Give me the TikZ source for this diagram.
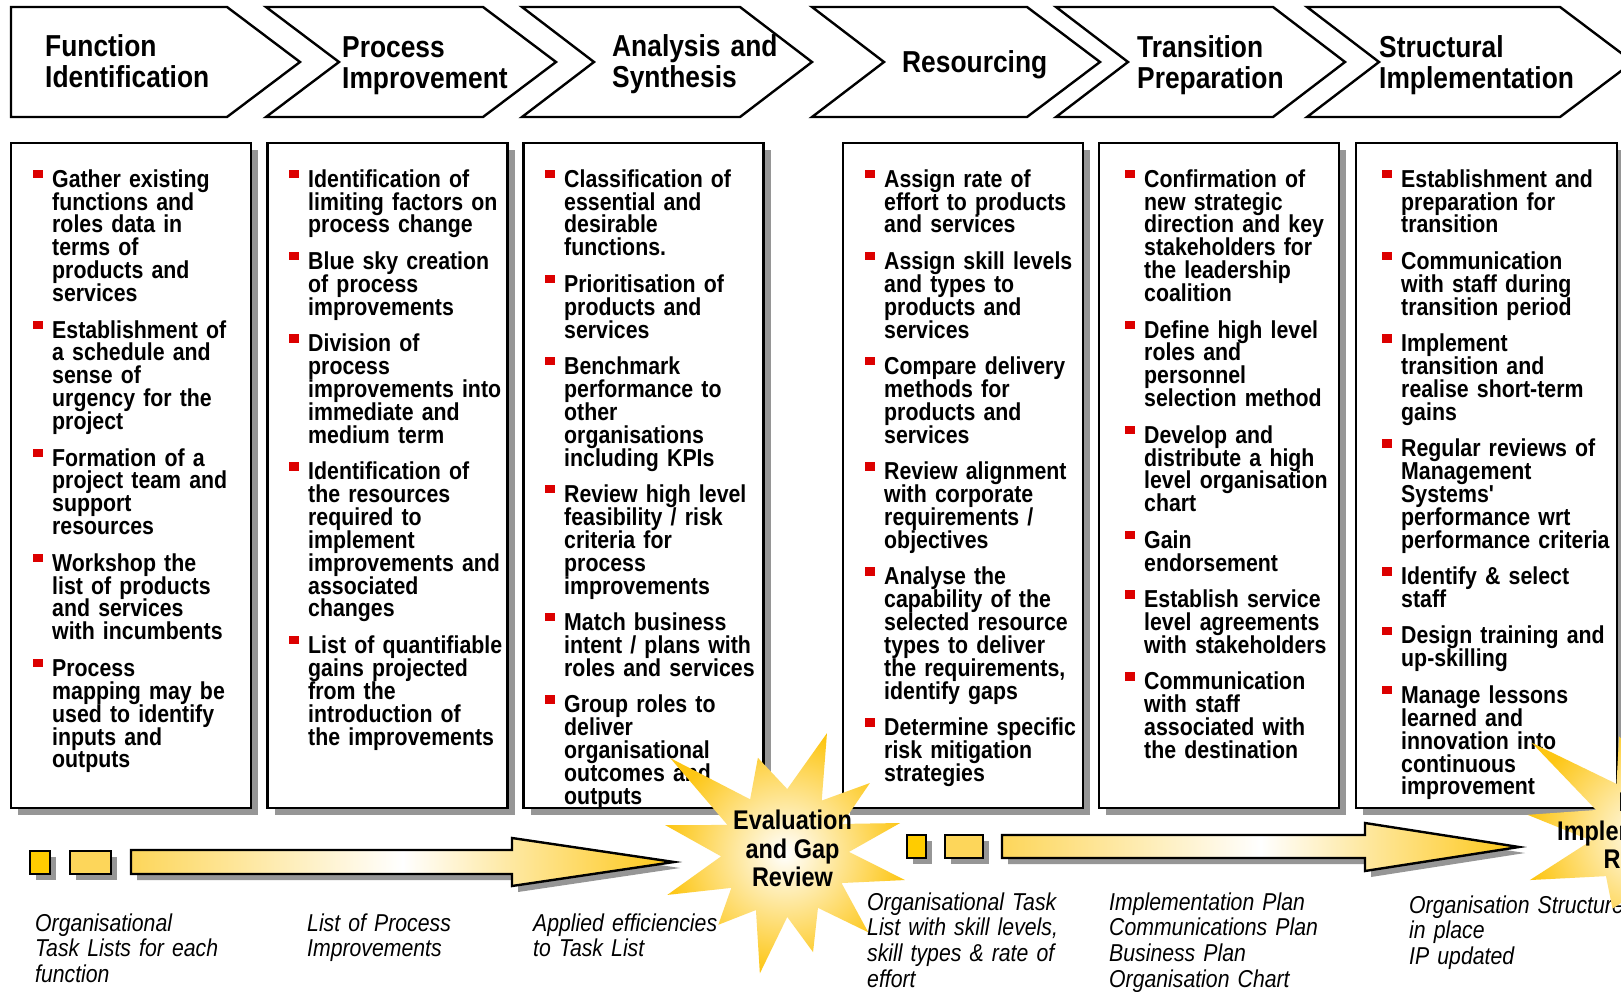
\documentclass[tikz,border=0pt]{standalone}
\usepackage{fontspec}
\setmainfont{Liberation Sans}[FakeStretch=0.87]
\usetikzlibrary{shadows}

\definecolor{bulred}{RGB}{220,0,0}
\definecolor{gold}{RGB}{255,204,0}
\definecolor{paleGold}{RGB}{253,214,90}
\definecolor{starGold}{RGB}{253,198,20}
\definecolor{shadowGray}{RGB}{150,150,150}

% fonts, with fixed line pitch
\newcommand{\bodyfont}{\fontsize{24.5}{22.9}\selectfont\bfseries\lineskiplimit-60pt\parskip13.5pt\relax}
\newcommand{\headfont}{\fontsize{30.3}{31}\selectfont\bfseries\lineskiplimit-60pt\relax}
\newcommand{\outfont}{\fontsize{24.4}{25.6}\selectfont\itshape\lineskiplimit-60pt\relax}
\newcommand{\burstfont}{\fontsize{27}{28.4}\selectfont\bfseries\lineskiplimit-60pt\relax}
% red square bullet hanging left of the item text
\newcommand{\bul}{\noindent\llap{\textcolor{bulred}{\rule[9pt]{9.5pt}{8.5pt}}\hspace{9.5pt}}\rule{0pt}{19pt}}

\tikzset{
  chev/.style={draw=black, line width=2.4pt, fill=white, line join=miter},
  colbox/.style={draw=black, line width=2.6pt, fill=white, minimum width=240pt, minimum height=665pt,
    drop shadow={shadow xshift=7pt, shadow yshift=-7pt, fill=shadowGray, opacity=1}},
  coltext/.style={anchor=north west, inner sep=0pt, text width=240pt, align=left, font=\bodyfont},
  headtext/.style={anchor=north west, inner sep=0pt, text width=260pt, align=left, font=\headfont},
  outtext/.style={anchor=north west, inner sep=0pt, text width=280pt, align=left, font=\outfont},
  sq/.style={draw=black, line width=2.4pt, inner sep=0pt, minimum height=23pt,
    drop shadow={shadow xshift=6pt, shadow yshift=-6pt, fill=shadowGray, opacity=1}},
  flowarrow/.style={draw=black, line width=2.4pt, line join=miter, left color=paleGold, right color=starGold, middle color=white,
    drop shadow={shadow xshift=6pt, shadow yshift=-6pt, fill=shadowGray, opacity=1}},
  burst/.style={inner color=white, outer color=starGold},
  bursttext/.style={align=center, inner sep=0pt, font=\burstfont}
}

\begin{document}
\begin{tikzpicture}[x=1pt,y=1pt,yscale=-1,xscale=1]
\useasboundingbox (0,0) rectangle (1621,992);
\fill[white] (0,0) rectangle (1621,992);
\clip (0,0) rectangle (1621,992);

% phase chevrons
\draw[chev] (11,7) -- (227,7) -- (300,62) -- (227,117) -- (11,117) -- cycle;
\draw[chev] (266,7) -- (483,7) -- (556,62) -- (483,117) -- (266,117) -- (339,62) -- cycle;
\draw[chev] (522,7) -- (740,7) -- (812,62) -- (740,117) -- (522,117) -- (594,62) -- cycle;
\draw[chev] (812,7) -- (1027,7) -- (1100,62) -- (1027,117) -- (812,117) -- (884,62) -- cycle;
\draw[chev] (1056,7) -- (1273,7) -- (1345,62) -- (1273,117) -- (1056,117) -- (1128,62) -- cycle;
\draw[chev] (1307,7) -- (1560,7) -- (1633,62) -- (1560,117) -- (1307,117) -- (1379,62) -- cycle;

\node[headtext] (h1) at (45,32) {\rule{0pt}{24pt}Function\\Identification};
\node[headtext] (h2) at (342,33) {\rule{0pt}{24pt}Process\\Improvement};
\node[headtext] (h3) at (612,32) {\rule{0pt}{24pt}Analysis and\\Synthesis};
\node[headtext] (h4) at (902,48) {\rule{0pt}{24pt}Resourcing};
\node[headtext] (h5) at (1137,33) {\rule{0pt}{24pt}Transition\\Preparation};
\node[headtext] (h6) at (1379,33) {\rule{0pt}{24pt}Structural\\Implementation};

% activity columns
\node[colbox] (c1) at (131,475.5) {};
\node[colbox] (c2) at (387.5,475.5) {};
\node[colbox] (c3) at (643.5,475.5) {};
\node[colbox] (c4) at (963,475.5) {};
\node[colbox] (c5) at (1219,475.5) {};
\node[colbox, minimum width=261pt] (c6) at (1486.5,475.5) {};

\node[coltext] (t1) at (52,168) {\bul Gather existing\\functions and\\roles data in\\terms of\\products and\\services\par
\bul Establishment of\\a schedule and\\sense of\\urgency for the\\project\par
\bul Formation of a\\project team and\\support\\resources\par
\bul Workshop the\\list of products\\and services\\with incumbents\par
\bul Process\\mapping may be\\used to identify\\inputs and\\outputs};

\node[coltext] (t2) at (308,168) {\bul Identification of\\limiting factors on\\process change\par
\bul Blue sky creation\\of process\\improvements\par
\bul Division of\\process\\improvements into\\immediate and\\medium term\par
\bul Identification of\\the resources\\required to\\implement\\improvements and\\associated\\changes\par
\bul List of quantifiable\\gains projected\\from the\\introduction of\\the improvements};

\node[coltext] (t3) at (564,168) {\bul Classification of\\essential and\\desirable\\functions.\par
\bul Prioritisation of\\products and\\services\par
\bul Benchmark\\performance to\\other\\organisations\\including KPIs\par
\bul Review high level\\feasibility / risk\\criteria for\\process\\improvements\par
\bul Match business\\intent / plans with\\roles and services\par
\bul Group roles to\\deliver\\organisational\\outcomes and\\outputs};

\node[coltext] (t4) at (884,168) {\bul Assign rate of\\effort to products\\and services\par
\bul Assign skill levels\\and types to\\products and\\services\par
\bul Compare delivery\\methods for\\products and\\services\par
\bul Review alignment\\with corporate\\requirements /\\objectives\par
\bul Analyse the\\capability of the\\selected resource\\types to deliver\\the requirements,\\identify gaps\par
\bul Determine specific\\risk mitigation\\strategies};

\node[coltext] (t5) at (1144,168) {\bul Confirmation of\\new strategic\\direction and key\\stakeholders for\\the leadership\\coalition\par
\bul Define high level\\roles and\\personnel\\selection method\par
\bul Develop and\\distribute a high\\level organisation\\chart\par
\bul Gain\\endorsement\par
\bul Establish service\\level agreements\\with stakeholders\par
\bul Communication\\with staff\\associated with\\the destination};

\node[coltext] (t6) at (1401,168) {\bul Establishment and\\preparation for\\transition\par
\bul Communication\\with staff during\\transition period\par
\bul Implement\\transition and\\realise short-term\\gains\par
\bul Regular reviews of\\Management\\Systems\textquotesingle\\performance wrt\\performance criteria\par
\bul Identify \& select\\staff\par
\bul Design training and\\up-skilling\par
\bul Manage lessons\\learned and\\innovation into\\continuous\\improvement};

% progress arrows
\node[sq, fill=gold, minimum width=20pt] (s1) at (40,862.5) {};
\node[sq, fill=paleGold, minimum width=41pt] (s2) at (90.5,862.5) {};
\draw[flowarrow] (131,850) -- (512,850) -- (512,838) -- (674,862) -- (512,886) -- (512,874) -- (131,874) -- cycle;

\node[sq, fill=gold, minimum width=19pt] (s3) at (916.5,846.5) {};
\node[sq, fill=paleGold, minimum width=38pt] (s4) at (964,846.5) {};
\draw[flowarrow] (1002,835) -- (1365,835) -- (1365,823) -- (1519,847) -- (1365,871) -- (1365,858) -- (1002,858) -- cycle;

% deliverables
\node[outtext] (o1) at (35,911) {\rule{0pt}{20pt}Organisational\\Task Lists for each\\function};
\node[outtext] (o2) at (307,911) {\rule{0pt}{20pt}List of Process\\Improvements};
\node[outtext] (o3) at (533,911) {\rule{0pt}{20pt}Applied efficiencies\\to Task List};
\node[outtext] (o4) at (867,890) {\rule{0pt}{20pt}Organisational Task\\List with skill levels,\\skill types \& rate of\\effort};
\node[outtext] (o5) at (1109,890) {\rule{0pt}{20pt}Implementation Plan\\Communications Plan\\Business Plan\\Organisation Chart};
\node[outtext] (o6) at (1409,893) {\rule{0pt}{20pt}Organisation Structure\\in place\\IP updated};

% review bursts
\begin{scope}[shift={(785,853)}]
  \shade[burst] (12.7:123) -- (28:64) -- (43.6:115) -- (59:64) -- (74.2:103) -- (88:64) -- (101.8:123) -- (117:64)
    -- (132.9:98) -- (147:64) -- (160.4:125) -- (177:64) -- (193.1:123) -- (206:64) -- (219.6:149) -- (237:64)
    -- (254.1:99) -- (272:64) -- (289.3:127) -- (305:64) -- (320.5:110) -- (333:64) -- (345.4:119) -- (359:64) -- cycle;
\end{scope}
\begin{scope}[shift={(1655,835)}]
  \shade[burst] (15:120) -- (30:64) -- (45:120) -- (58:64) -- (72:110) -- (86:64) -- (100:125) -- (110:64)
    -- (120:85) -- (140:64) -- (160.2:133) -- (175:64) -- (189:129) -- (203:64) -- (216.8:154) -- (233:64)
    -- (250:105) -- (267:64) -- (285:125) -- (300:64) -- (315:115) -- (330:64) -- (345:120) -- (0:64) -- cycle;
\end{scope}
\node[bursttext] (gap) at (792.5,848.5) {Evaluation\\and Gap\\Review};
\node[bursttext] (pir) at (1644,831) {Post\\Implementation\\Review};

\end{tikzpicture}
\end{document}
